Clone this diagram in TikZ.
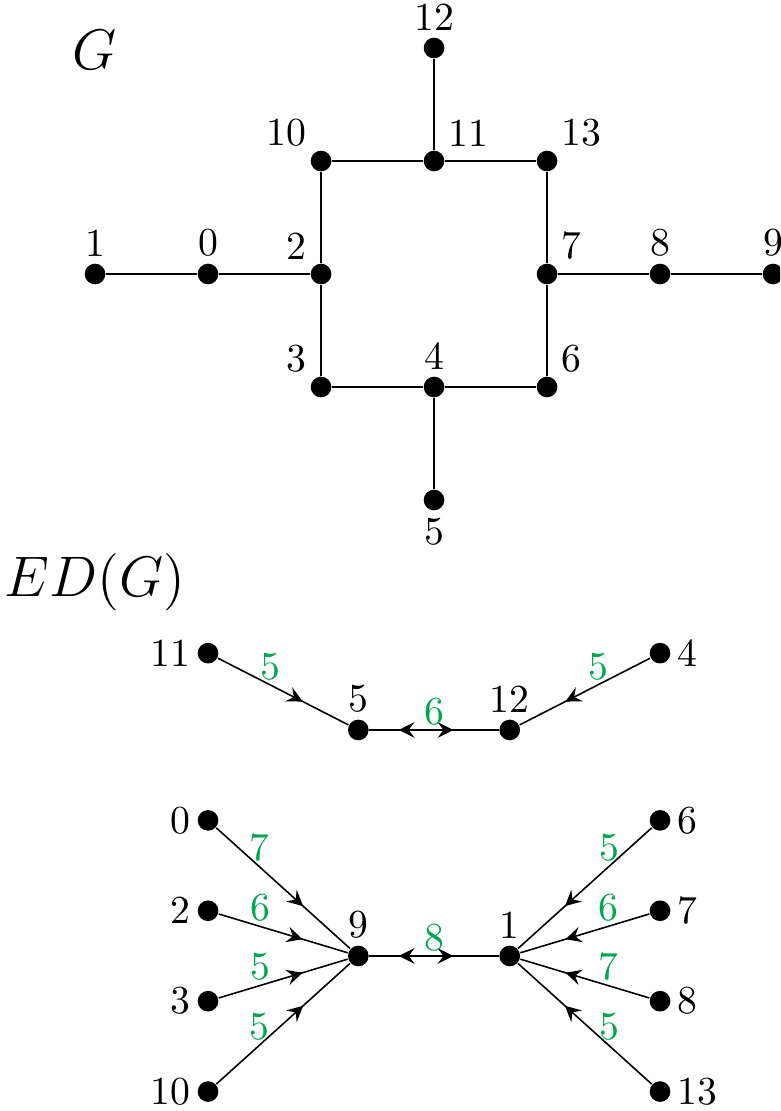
\documentclass[tikz,border=0pt]{standalone}
\usetikzlibrary{arrows,decorations.markings}
\definecolor{wgreen}{RGB}{0,166,81}

\begin{document}
\begin{tikzpicture}[>=stealth,
	vert/.style={circle,fill=black,inner sep=0pt,minimum size=5.2pt},
	every label/.style={inner sep=1.5pt},
	wlab/.style={text=wgreen,inner sep=1pt},
	arc/.style={postaction={decorate},decoration={markings,
		mark=at position 0.65 with {\arrow[scale=1.25]{>}}}},
	twoarc/.style={postaction={decorate},decoration={markings,
		mark=at position 0.35 with {\arrow[scale=1.25]{<}},
		mark=at position 0.65 with {\arrow[scale=1.25]{>}}}}]

\clip (-0.841,2.425) rectangle (6.062,-7.407);

\begin{scope}
\node (gname) at (0,1.98) {\Large $G$};

\node[vert,label=above:1] (g1) at (0,0) {};
\node[vert,label=above:0] (g0) at (1,0) {};
\node[vert,label=above left:2] (g2) at (2,0) {};
\node[vert,label=above left:10] (g10) at (2,1) {};
\node[vert,label=above right:11] (g11) at (3,1) {};
\node[vert,label=above:12] (g12) at (3,2) {};
\node[vert,label=above right:13] (g13) at (4,1) {};
\node[vert,label=above right:7] (g7) at (4,0) {};
\node[vert,label=above:8] (g8) at (5,0) {};
\node[vert,label=above:9] (g9) at (6,0) {};
\node[vert,label=above left:3] (g3) at (2,-1) {};
\node[vert,label=above:4] (g4) at (3,-1) {};
\node[vert,label=above right:6] (g6) at (4,-1) {};
\node[vert,label=below:5] (g5) at (3,-2) {};

\draw (g1)--(g0)--(g2)--(g10)--(g11)--(g13)--(g7)--(g8)--(g9);
\draw (g11)--(g12);
\draw (g2)--(g3)--(g4)--(g6)--(g7);
\draw (g4)--(g5);
\end{scope}

\begin{scope}[yshift=-6.035cm]
\node (edname) at (0,3.309) {\Large $ED(G)$};

\node[vert,label=left:11] (e11) at (1,2.68) {};
\node[vert,label=above:5] (e5) at (2.33,2) {};
\node[vert,label=above:12] (e12) at (3.67,2) {};
\node[vert,label=right:4] (e4) at (5,2.68) {};

\draw[arc] (e11) -- node[pos=0.4,above,wlab] {5} (e5);
\draw[arc] (e4) -- node[pos=0.4,above,wlab] {5} (e12);
\draw[twoarc] (e5) -- node[above,wlab] {6} (e12);

\node[vert,label=left:0] (e0) at (1,1.2) {};
\node[vert,label=left:2] (e2) at (1,0.4) {};
\node[vert,label=left:3] (e3) at (1,-0.4) {};
\node[vert,label=left:10] (e10) at (1,-1.2) {};
\node[vert,label=above:9] (e9) at (2.33,0) {};
\node[vert,label=above:1] (e1) at (3.67,0) {};
\node[vert,label=right:6] (e6) at (5,1.2) {};
\node[vert,label=right:7] (e7) at (5,0.4) {};
\node[vert,label=right:8] (e8) at (5,-0.4) {};
\node[vert,label=right:13] (e13) at (5,-1.2) {};

\draw[arc] (e0) -- node[pos=0.32,above,wlab] {7} (e9);
\draw[arc] (e2) -- node[pos=0.32,above,wlab] {6} (e9);
\draw[arc] (e3) -- node[pos=0.32,above,wlab] {5} (e9);
\draw[arc] (e10) -- node[pos=0.32,above,wlab] {5} (e9);
\draw[twoarc] (e9) -- node[above,wlab] {8} (e1);
\draw[arc] (e6) -- node[pos=0.32,above,wlab] {5} (e1);
\draw[arc] (e7) -- node[pos=0.32,above,wlab] {6} (e1);
\draw[arc] (e8) -- node[pos=0.32,above,wlab] {7} (e1);
\draw[arc] (e13) -- node[pos=0.32,above,wlab] {5} (e1);
\end{scope}

\end{tikzpicture}
\end{document}
